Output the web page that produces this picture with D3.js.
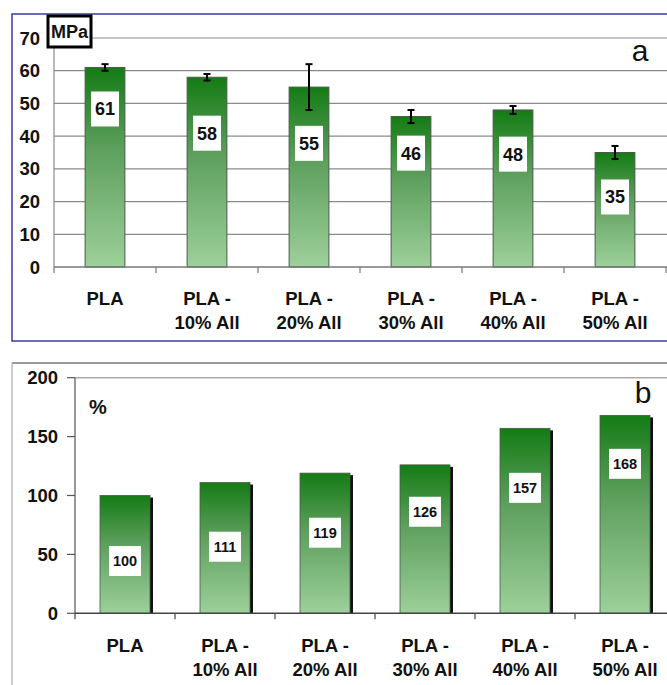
<!DOCTYPE html>
<html><head><meta charset="utf-8">
<script src="https://cdn.jsdelivr.net/npm/d3@7"></script>
<style>body{margin:0;background:#fff}svg{display:block}text{font-family:"Liberation Sans",Arial,sans-serif}</style>
</head><body>
<script>
const categories = [["PLA"],["PLA -","10% All"],["PLA -","20% All"],["PLA -","30% All"],["PLA -","40% All"],["PLA -","50% All"]];
const strengthMPa = [61, 58, 55, 46, 48, 35];
const strengthErr = [1, 1, 7, 2, 1.2, 2];
const strengthLabelAt = [48.3, 40.9, 37.8, 34.8, 34.5, 21.4];
const ticksA = [0,10,20,30,40,50,60,70];
const relativePct = [100, 111, 119, 126, 157, 168];
const relativeLabelAt = [44.4, 56.5, 68.4, 86.2, 106.5, 126.9];
const ticksB = [0,50,100,150,200];

const W=667,H=685;
const svg=d3.select("body").append("svg").attr("width",W).attr("height",H);
const defs=svg.append("defs");
const g=defs.append("linearGradient").attr("id","grad").attr("x1",0).attr("y1",0).attr("x2",0).attr("y2",1);
g.append("stop").attr("offset","0%").attr("stop-color","#147c14");
g.append("stop").attr("offset","40%").attr("stop-color","#5c9e5c");
g.append("stop").attr("offset","100%").attr("stop-color","#9dd09a");
const idx=d3.range(categories.length);

// ---------- Panel a ----------
const A=svg.append("g");
A.append("rect").attr("x",12).attr("y",14).attr("width",W).attr("height",327).attr("fill","#fff").attr("stroke","#3a3aaa").attr("stroke-width",1.5);
const xa=d3.scaleBand().domain(idx).range([54,666]).paddingInner(0.61).paddingOuter(0.305);
const ya=d3.scaleLinear().domain([0,70]).range([267,38]);
A.selectAll(".grid").data(ticksA.filter(t=>t>0)).join("line")
 .attr("x1",54).attr("x2",W).attr("y1",d=>ya(d)).attr("y2",d=>ya(d)).attr("stroke","#8a8a8a").attr("stroke-width",1.2);
A.append("rect").attr("x",625).attr("y",ya(70)+1).attr("width",31).attr("height",ya(60)-ya(70)-2).attr("fill","#fff");
A.append("text").attr("x",640).attr("y",61).attr("text-anchor","middle").attr("font-size",30).attr("fill","#111").text("a");
A.append("line").attr("x1",54).attr("x2",54).attr("y1",38).attr("y2",267).attr("stroke","#8a8a8a").attr("stroke-width",1.2);
A.selectAll(".yl").data(ticksA).join("text").attr("x",40).attr("y",d=>ya(d)+6.5).attr("text-anchor","end")
 .attr("font-size",18.5).attr("font-weight","bold").attr("fill","#111").text(d=>d);
A.selectAll(".bar").data(idx).join("rect").attr("x",i=>xa(i)).attr("y",i=>ya(strengthMPa[i])).attr("width",xa.bandwidth())
 .attr("height",i=>ya(0)-ya(strengthMPa[i])).attr("fill","url(#grad)").attr("stroke","#4a5a4a").attr("stroke-width",1);
const axA=A.append("g").attr("transform","translate(0,267)");
axA.append("line").attr("x1",54).attr("x2",W).attr("stroke","#777").attr("stroke-width",1.5);
axA.selectAll(".tk").data(d3.range(7)).join("line").attr("x1",i=>54+i*xa.step()).attr("x2",i=>54+i*xa.step()).attr("y1",0).attr("y2",6).attr("stroke","#777").attr("stroke-width",1.2);
const eb=A.selectAll(".eb").data(idx).join("g").attr("transform",i=>`translate(${xa(i)+xa.bandwidth()/2},0)`);
eb.append("line").attr("y1",i=>ya(strengthMPa[i]+strengthErr[i])).attr("y2",i=>ya(strengthMPa[i]-strengthErr[i])).attr("stroke","#000").attr("stroke-width",2);
eb.append("line").attr("x1",-3.5).attr("x2",3.5).attr("y1",i=>ya(strengthMPa[i]+strengthErr[i])).attr("y2",i=>ya(strengthMPa[i]+strengthErr[i])).attr("stroke","#000").attr("stroke-width",2);
eb.append("line").attr("x1",-3.5).attr("x2",3.5).attr("y1",i=>ya(strengthMPa[i]-strengthErr[i])).attr("y2",i=>ya(strengthMPa[i]-strengthErr[i])).attr("stroke","#000").attr("stroke-width",2);
const la=A.selectAll(".vl").data(idx).join("g").attr("transform",i=>`translate(${xa(i)+xa.bandwidth()/2},${ya(strengthLabelAt[i])})`);
la.append("rect").attr("x",-14).attr("y",-17.5).attr("width",28).attr("height",35).attr("fill","#fff");
la.append("text").attr("y",6.5).attr("text-anchor","middle").attr("font-size",18).attr("font-weight","bold").attr("fill","#111").text(i=>strengthMPa[i]);
A.selectAll(".xl").data(idx).join("text").attr("text-anchor","middle")
 .attr("font-size",18.5).attr("font-weight","bold").attr("fill","#111")
 .each(function(i){const t=d3.select(this);categories[i].forEach((s,k)=>t.append("tspan").attr("x",xa(i)+xa.bandwidth()/2).attr("y",304.5+k*24.5).text(s));});
A.append("rect").attr("x",48).attr("y",16).attr("width",43).attr("height",31).attr("fill","#fff").attr("stroke","#000").attr("stroke-width",3);
A.append("text").attr("x",69.5).attr("y",37.5).attr("text-anchor","middle").attr("font-size",18).attr("font-weight","bold").attr("fill","#111").text("MPa");

// ---------- Panel b ----------
const B=svg.append("g");
B.append("line").attr("x1",12).attr("x2",W).attr("y1",363).attr("y2",363).attr("stroke","#999").attr("stroke-width",2);
B.append("line").attr("x1",12).attr("x2",12).attr("y1",363).attr("y2",H).attr("stroke","#bbb").attr("stroke-width",1.5);
const xb=d3.scaleBand().domain(idx).range([75,675]).paddingInner(0.5).paddingOuter(0.25);
const yb=d3.scaleLinear().domain([0,200]).range([613.3,377.7]);
B.append("line").attr("x1",75).attr("x2",W).attr("y1",yb(200)).attr("y2",yb(200)).attr("stroke","#aaa").attr("stroke-width",1.5);
B.append("line").attr("x1",75).attr("x2",75).attr("y1",yb(200)).attr("y2",yb(0)).attr("stroke","#555").attr("stroke-width",1.2);
B.selectAll(".ytk").data(ticksB).join("line").attr("x1",67).attr("x2",75).attr("y1",d=>yb(d)).attr("y2",d=>yb(d)).attr("stroke","#555").attr("stroke-width",1.2);
B.selectAll(".yl").data(ticksB).join("text").attr("x",58).attr("y",d=>yb(d)+6.5).attr("text-anchor","end")
 .attr("font-size",18.5).attr("font-weight","bold").attr("fill","#111").text(d=>d);
B.append("text").attr("x",98).attr("y",414).attr("text-anchor","middle").attr("font-size",20).attr("font-weight","bold").attr("fill","#111").text("%");
B.append("text").attr("x",643).attr("y",403).attr("text-anchor","middle").attr("font-size",30).attr("fill","#111").text("b");
B.selectAll(".sh").data(idx).join("rect").attr("x",i=>xb(i)+3).attr("y",i=>yb(relativePct[i])+2).attr("width",xb.bandwidth())
 .attr("height",i=>yb(0)-yb(relativePct[i])-2).attr("fill","#111");
B.selectAll(".bar").data(idx).join("rect").attr("x",i=>xb(i)).attr("y",i=>yb(relativePct[i])).attr("width",xb.bandwidth())
 .attr("height",i=>yb(0)-yb(relativePct[i])).attr("fill","url(#grad)").attr("stroke","#4a5a4a").attr("stroke-width",0.8);
const axB=B.append("g").attr("transform","translate(0,613.3)");
axB.append("line").attr("x1",75).attr("x2",W).attr("stroke","#444").attr("stroke-width",1.5);
axB.selectAll(".tk").data(d3.range(7)).join("line").attr("x1",i=>75+i*xb.step()).attr("x2",i=>75+i*xb.step()).attr("y1",0).attr("y2",6).attr("stroke","#444").attr("stroke-width",1.2);
const lb=B.selectAll(".vl").data(idx).join("g").attr("transform",i=>`translate(${xb(i)+xb.bandwidth()/2},${yb(relativeLabelAt[i])})`);
lb.append("rect").attr("x",-16).attr("y",-15).attr("width",32).attr("height",30).attr("fill","#fff");
lb.append("text").attr("y",5).attr("text-anchor","middle").attr("font-size",14.5).attr("font-weight","bold").attr("fill","#111").text(i=>relativePct[i]);
B.selectAll(".xl").data(idx).join("text").attr("text-anchor","middle")
 .attr("font-size",18.5).attr("font-weight","bold").attr("fill","#111")
 .each(function(i){const t=d3.select(this);categories[i].forEach((s,k)=>t.append("tspan").attr("x",xb(i)+xb.bandwidth()/2).attr("y",651.5+k*24.5).text(s));});
</script>
</body></html>
